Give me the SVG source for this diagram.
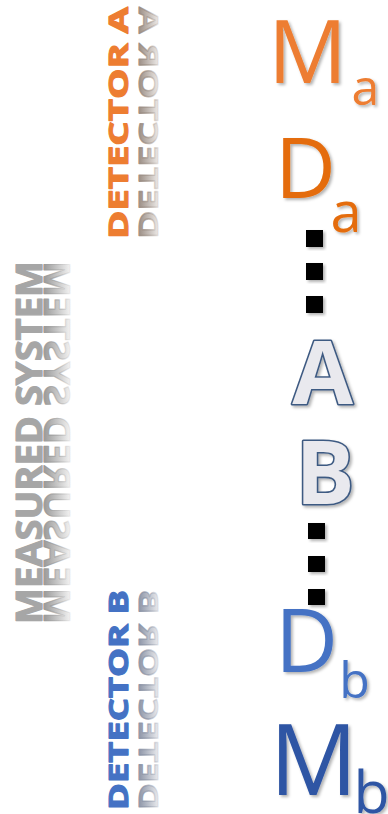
<svg xmlns="http://www.w3.org/2000/svg" width="388" height="814" viewBox="0 0 388 814">
  <style>
    .vt { font-family: "Open Sans", "Liberation Sans", sans-serif; font-weight: 700; stroke-width: 1.1; stroke-linejoin: round; }
    .big { font-family: "Open Sans", "Liberation Sans", sans-serif; filter: url(#shadow); }
    .outl { font-family: "Open Sans", "Liberation Sans", sans-serif; font-weight: 700; fill: #E9E9EE; stroke: #3E5A82; stroke-width: 3.2; paint-order: stroke; stroke-linejoin: round; filter: url(#shadow); }
    .dot { fill: #000; filter: url(#shadow); }
  </style>
  <defs>
    <filter id="shadow" x="-20%" y="-20%" width="140%" height="140%">
      <feDropShadow dx="2" dy="2" stdDeviation="1.5" flood-color="#000" flood-opacity="0.3"/>
    </filter>
    <linearGradient id="reflA" gradientUnits="userSpaceOnUse" x1="0" y1="0" x2="0" y2="-24">
      <stop offset="0" stop-color="#9C8F86" stop-opacity="1"/>
      <stop offset="1" stop-color="#9C8F86" stop-opacity="0"/>
    </linearGradient>
    <linearGradient id="reflB" gradientUnits="userSpaceOnUse" x1="0" y1="0" x2="0" y2="-24">
      <stop offset="0" stop-color="#8E96A8" stop-opacity="1"/>
      <stop offset="1" stop-color="#8E96A8" stop-opacity="0"/>
    </linearGradient>
    <linearGradient id="reflM" gradientUnits="userSpaceOnUse" x1="0" y1="0" x2="0" y2="-30">
      <stop offset="0" stop-color="#9A9A9A" stop-opacity="1"/>
      <stop offset="1" stop-color="#9A9A9A" stop-opacity="0"/>
    </linearGradient>
  </defs>

  <!-- vertical labels -->
  <g id="label-detector-a">
    <text class="vt" font-size="26" fill="#ED7D31" stroke="#ED7D31" transform="translate(128,239) rotate(-90) scale(1.6,1)" textLength="145" lengthAdjust="spacingAndGlyphs">DETECTOR A</text>
    <text class="vt" font-size="26" fill="url(#reflA)" stroke="url(#reflA)" transform="translate(139,239) rotate(-90) scale(1.6,-1)" textLength="145" lengthAdjust="spacingAndGlyphs">DETECTOR A</text>
  </g>
  <g id="label-measured-system">
    <text class="vt" font-size="35" fill="#A6A6A6" stroke="#A6A6A6" transform="translate(42,624) rotate(-90) scale(1.15,1)" textLength="315.6" lengthAdjust="spacingAndGlyphs">MEASURED SYSTEM</text>
    <text class="vt" font-size="35" fill="url(#reflM)" stroke="url(#reflM)" transform="translate(44,624) rotate(-90) scale(1.15,-1)" textLength="315.6" lengthAdjust="spacingAndGlyphs">MEASURED SYSTEM</text>
  </g>
  <g id="label-detector-b">
    <text class="vt" font-size="26" fill="#4472C4" stroke="#4472C4" transform="translate(128,810) rotate(-90) scale(1.6,1)" textLength="137.5" lengthAdjust="spacingAndGlyphs">DETECTOR B</text>
    <text class="vt" font-size="26" fill="url(#reflB)" stroke="url(#reflB)" transform="translate(139,810) rotate(-90) scale(1.6,-1)" textLength="137.5" lengthAdjust="spacingAndGlyphs">DETECTOR B</text>
  </g>

  <!-- connectors (dotted) -->
  <g id="connectors">
    <rect class="dot" x="306" y="230" width="17" height="17"/>
    <rect class="dot" x="306" y="263" width="17" height="17"/>
    <rect class="dot" x="306" y="296" width="17" height="17"/>
    <rect class="dot" x="308" y="523" width="17" height="16"/>
    <rect class="dot" x="308" y="556" width="17" height="16"/>
    <rect class="dot" x="308" y="589" width="17" height="16"/>
  </g>

  <!-- nodes -->
  <g id="node-Ma">
    <text class="big" x="307.5" y="83" font-size="88" fill="#ED7D31" text-anchor="middle">M</text>
    <text class="big" x="365.5" y="105" font-size="50" fill="#ED7D31" text-anchor="middle">a</text>
  </g>
  <g id="node-Da">
    <text class="big" x="275" y="198" font-size="84" fill="#E46C0A">D</text>
    <text class="big" x="346" y="232" font-size="56" fill="#E46C0A" text-anchor="middle">a</text>
  </g>
  <g id="node-A">
    <text class="outl" x="322.5" y="404" font-size="88" text-anchor="middle">A</text>
  </g>
  <g id="node-B">
    <text class="outl" x="325" y="504" font-size="88" text-anchor="middle">B</text>
  </g>
  <g id="node-Db">
    <text class="big" x="275" y="672" font-size="87" fill="#4472C4">D</text>
    <text class="big" x="354.5" y="698" font-size="50" fill="#4472C4" text-anchor="middle">b</text>
  </g>
  <g id="node-Mb">
    <text class="big" x="313.5" y="795" font-size="98" fill="#2F55A4" text-anchor="middle">M</text>
    <text class="big" x="371.5" y="813" font-size="59" fill="#2F55A4" text-anchor="middle">b</text>
  </g>
</svg>
